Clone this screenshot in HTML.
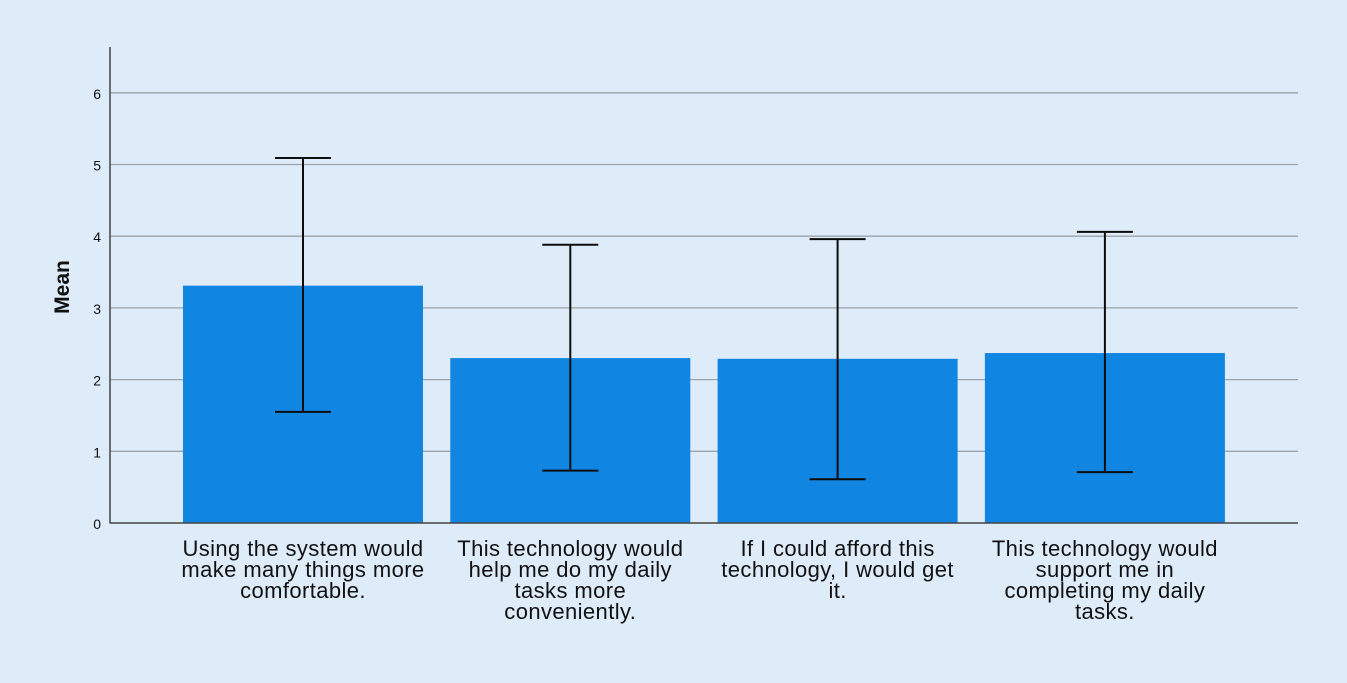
<!DOCTYPE html>
<html><head><meta charset="utf-8"><style>
html,body{margin:0;padding:0;background:#deebf8;}
svg{display:block;font-family:"Liberation Sans",Arial,sans-serif;}
</style></head><body>
<svg id="chart" width="1347" height="683">
<rect width="1347" height="683" fill="#deebf8"/>
<g id="grid"></g><g id="bars"></g><g id="errs"></g><g id="axes"></g><g id="labels"></g>
<text x="0" y="0" transform="translate(69,287) rotate(-90)" text-anchor="middle" font-size="21" font-weight="bold" fill="#111">Mean</text>
</svg>
<script>
const categories=[["Using the system would","make many things more","comfortable."],["This technology would","help me do my daily","tasks more","conveniently."],["If I could afford this","technology, I would get","it."],["This technology would","support me in","completing my daily","tasks."]];
const means=[3.31,2.30,2.29,2.37];
const upper=[5.09,3.88,3.96,4.06];
const lower=[1.55,0.73,0.61,0.71];
const yTicks=[0,1,2,3,4,5,6];
const NS="http://www.w3.org/2000/svg";
const y=v=>523-v*71.7;
const x=i=>303+i*267.3;
function mk(t,a,p){const e=document.createElementNS(NS,t);for(const k in a)e.setAttribute(k,a[k]);p.appendChild(e);return e;}
const g=document.getElementById('grid'),b=document.getElementById('bars'),er=document.getElementById('errs'),ax=document.getElementById('axes'),lb=document.getElementById('labels');
yTicks.forEach(t=>{
 if(t>0){const l=mk('line',{x1:110,x2:1298,y1:y(t),y2:y(t),stroke:'#9aa3ab','stroke-width':1.3},g);
 
 }
 const tx=mk('text',{x:101,y:y(t)+6,'text-anchor':'end','font-size':14,fill:'#111'},ax);tx.textContent=t;
 
 
});
means.forEach((m,i)=>{
 const r=mk('rect',{x:x(i)-120,y:y(m),width:240,height:y(0)-y(m),fill:'#1185e2'},b);
 
 
 const e=mk('path',{d:`M${x(i)},${y(upper[i])}V${y(lower[i])}M${x(i)-28},${y(upper[i])}H${x(i)+28}M${x(i)-28},${y(lower[i])}H${x(i)+28}`,stroke:'#0d0d0d','stroke-width':2,fill:'none'},er);
 
 
 categories[i].forEach((s,j)=>{
  const t=mk('text',{x:x(i),y:556+j*21,'text-anchor':'middle','font-size':22,'letter-spacing':0.4,fill:'#111'},lb);t.textContent=s;
  
  
 });
});
const a1=mk('line',{x1:110,x2:110,y1:47,y2:523.5,stroke:'#444','stroke-width':1.5},ax);


const a2=mk('line',{x1:110,x2:1298,y1:523,y2:523,stroke:'#444','stroke-width':1.5},ax);


</script>
</body></html>
